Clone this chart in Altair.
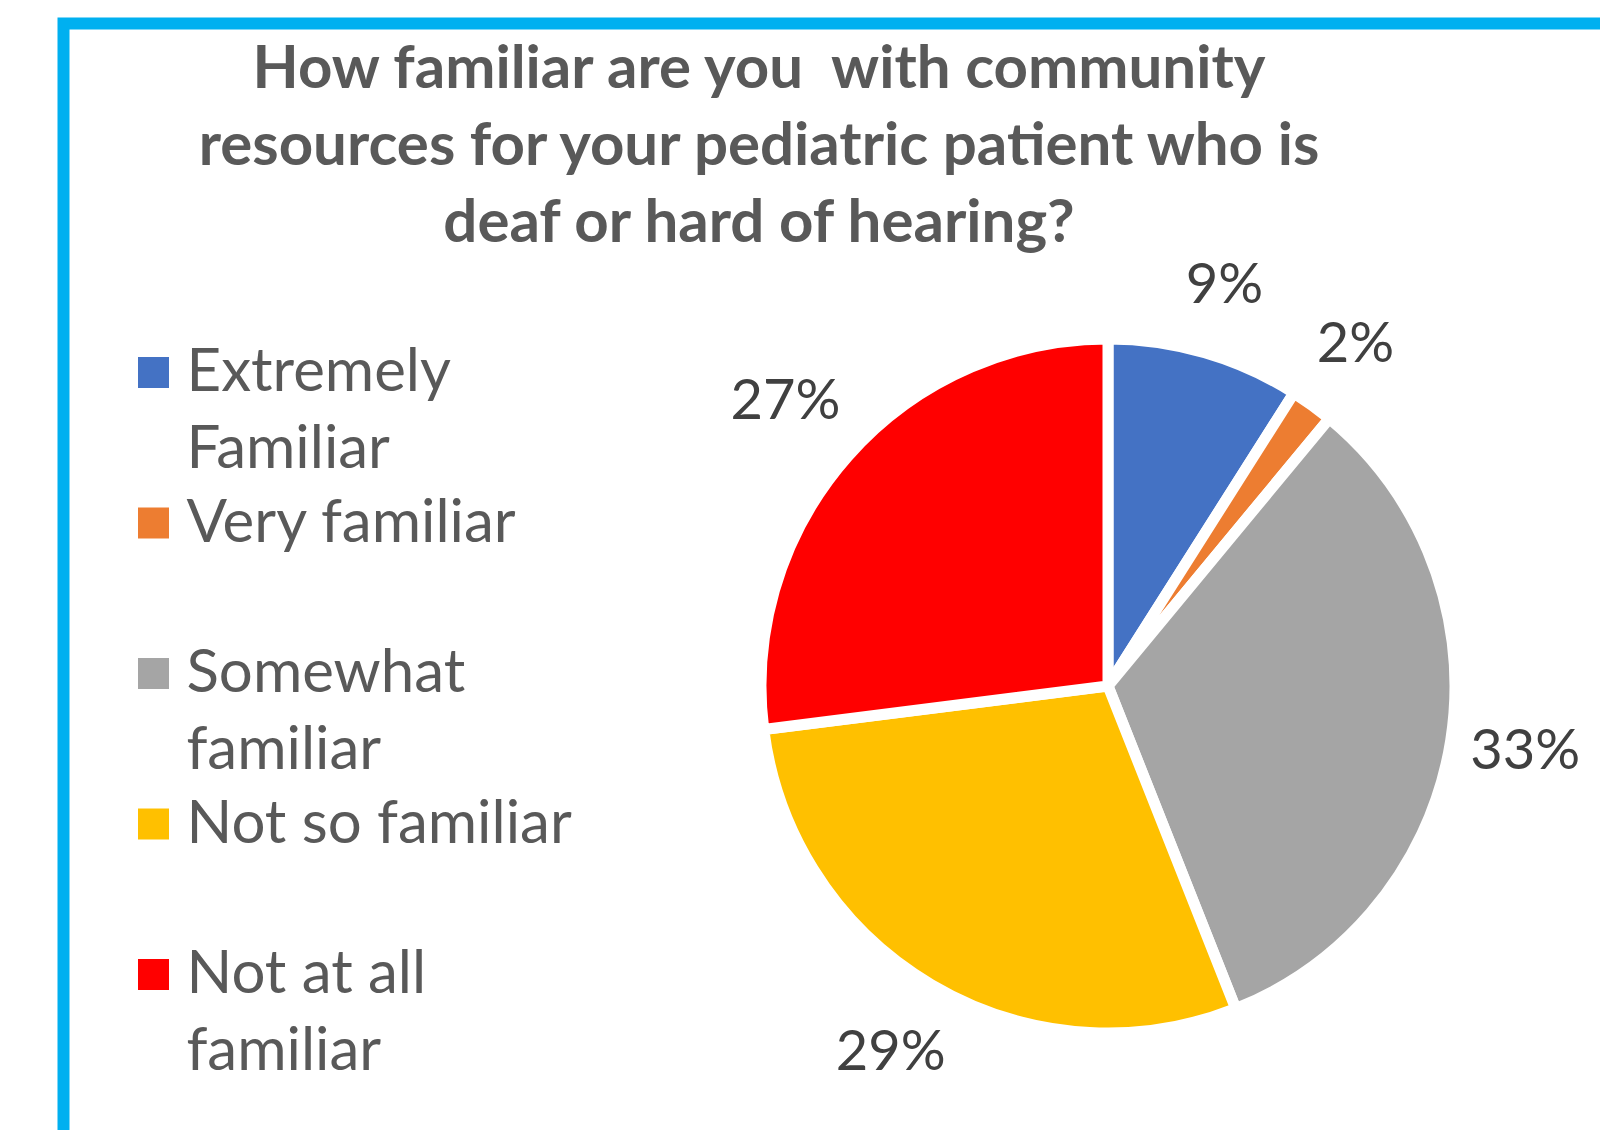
import altair as alt
import pandas as pd

categories = ["Extremely Familiar", "Very familiar", "Somewhat familiar",
              "Not so familiar", "Not at all familiar"]
legend_text = ["Extremely\nFamiliar", "Very familiar", "Somewhat\nfamiliar",
               "Not so familiar", "Not at all\nfamiliar"]
values = [9, 2, 33, 29, 27]
labels = ["9%", "2%", "33%", "29%", "27%"]
colors = ["#4472C4", "#ED7D31", "#A5A5A5", "#FFC000", "#FF0000"]
title_lines = ["How familiar are you \u00a0with community",
               "resources for your pediatric patient who is",
               "deaf or hard of hearing?"]

df = pd.DataFrame({
    "category": categories,
    "value": values,
    "label": labels,
    "legend": legend_text,
    "idx": list(range(len(categories))),
})

W, H = 1536, 1106
CX, CY = 1044.5, 662.5
R = 347
FONT = "Lato"

base = alt.Chart(df)
color_enc = alt.Color("category:N", scale=alt.Scale(domain=categories, range=colors), legend=None)

pie = base.mark_arc(outerRadius=R, stroke="white", strokeWidth=11).encode(
    theta=alt.Theta("value:Q", stack=True),
    color=color_enc,
    order=alt.Order("idx:Q"),
    x=alt.value(CX),
    y=alt.value(CY),
)

# label radius: just outside the pie edge, allowing for the label's own extent
pct = base.transform_window(
    cum="sum(value)", sort=[alt.SortField("idx")]
).transform_joinaggregate(
    total="sum(value)"
).transform_calculate(
    mid="(datum.cum - datum.value / 2) / datum.total * 2 * PI",
    tw="length(datum.label) * 31 + 13",
).transform_calculate(
    r="375 + 0.8 * abs(sin(datum.mid)) * datum.tw / 2 + 35 * abs(cos(datum.mid))"
).mark_text(fontSize=56, font=FONT, color="#404040", align="center", baseline="middle").encode(
    theta=alt.Theta("mid:Q", scale=None),
    radius=alt.Radius("r:Q", scale=None),
    x=alt.value(CX),
    y=alt.value(CY),
    text="label:N",
)

ypos = alt.Y("category:N", scale=alt.Scale(type="point", domain=categories, range=[349, 951], padding=0), axis=None)

leg_sq = base.mark_square(size=961, opacity=1).encode(
    x=alt.value(90),
    y=ypos,
    color=color_enc,
)

leg_tx = base.mark_text(align="left", baseline="alphabetic", lineBreak="\n", lineHeight=77,
                        fontSize=60, font=FONT, color="#595959", dy=18.5).encode(
    x=alt.value(123),
    y=ypos,
    text="legend:N",
)

chart = alt.layer(pie, pct, leg_sq, leg_tx).properties(
    width=W, height=H,
    autosize=alt.AutoSizeParams(type="none"),
    padding={"left": 63.5, "top": 23.5, "right": 0, "bottom": 0},
    background="white",
    title=alt.TitleParams(
        text=title_lines, fontSize=60, font=FONT, fontWeight="bold", color="#595959",
        anchor="start", align="center", dx=695.5, offset=-231, lineHeight=77,
    ),
).configure_view(
    stroke="#00B0F0", strokeWidth=12, fill="white",
    strokeDash=[W, W + H, H], strokeCap="round",
)

chart.save("out.html", embed_options={"renderer": "svg", "actions": False})
